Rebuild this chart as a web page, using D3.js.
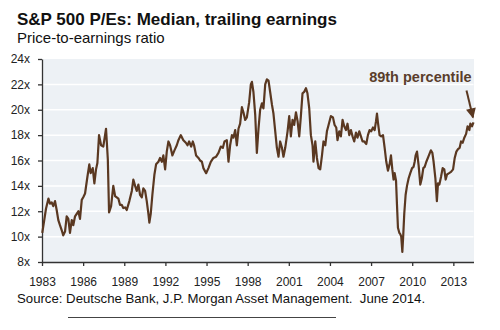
<!DOCTYPE html>
<html>
<head>
<meta charset="utf-8">
<script src="https://cdn.jsdelivr.net/npm/d3@7"></script>
<style>
  body { margin: 0; background: #fff; }
  svg { display: block; font-family: Arial, "Liberation Sans", sans-serif; }
</style>
</head>
<body>
<div id="chart"></div>
<script>
// median trailing P/E (decimal years)
const years = [1983.02, 1983.15, 1983.29, 1983.47, 1983.58, 1983.71, 1983.82, 1983.95, 1984.07, 1984.19,
  1984.31, 1984.44, 1984.55, 1984.68, 1984.80, 1984.92, 1985.04, 1985.17, 1985.28, 1985.41,
  1985.53, 1985.65, 1985.77, 1985.90, 1986.01, 1986.14, 1986.31, 1986.45, 1986.55, 1986.70,
  1986.82, 1986.94, 1987.04, 1987.16, 1987.31, 1987.47, 1987.67, 1987.80, 1987.89, 1988.04,
  1988.20, 1988.33, 1988.45, 1988.57, 1988.69, 1988.82, 1988.93, 1989.06, 1989.18, 1989.37,
  1989.55, 1989.66, 1989.79, 1989.91, 1990.03, 1990.15, 1990.28, 1990.39, 1990.52, 1990.64,
  1990.76, 1990.83, 1990.93, 1991.05, 1991.20, 1991.32, 1991.49, 1991.61, 1991.74, 1991.85,
  1991.98, 1992.10, 1992.22, 1992.34, 1992.51, 1992.66, 1992.83, 1992.95, 1993.12, 1993.31,
  1993.49, 1993.61, 1993.73, 1993.88, 1994.00, 1994.09, 1994.24, 1994.41, 1994.53, 1994.66,
  1994.77, 1994.97, 1995.14, 1995.31, 1995.50, 1995.70, 1995.87, 1996.04, 1996.19, 1996.31,
  1996.48, 1996.60, 1996.72, 1996.85, 1996.96, 1997.09, 1997.21, 1997.33, 1997.45, 1997.58,
  1997.69, 1997.82, 1997.94, 1998.11, 1998.23, 1998.31, 1998.42, 1998.55, 1998.67, 1998.79,
  1998.91, 1999.04, 1999.15, 1999.28, 1999.40, 1999.52, 1999.64, 1999.77, 1999.88, 2000.01,
  2000.13, 2000.25, 2000.37, 2000.50, 2000.61, 2000.74, 2000.91, 2001.03, 2001.15, 2001.27,
  2001.39, 2001.52, 2001.64, 2001.76, 2001.88, 2002.00, 2002.12, 2002.25, 2002.36, 2002.49,
  2002.61, 2002.73, 2002.80, 2002.93, 2003.05, 2003.17, 2003.29, 2003.42, 2003.53, 2003.66,
  2003.78, 2003.90, 2004.07, 2004.22, 2004.34, 2004.46, 2004.55, 2004.68, 2004.80, 2004.92,
  2005.04, 2005.17, 2005.28, 2005.41, 2005.53, 2005.65, 2005.77, 2005.90, 2006.01, 2006.14,
  2006.26, 2006.38, 2006.50, 2006.65, 2006.77, 2006.89, 2007.01, 2007.14, 2007.26, 2007.36,
  2007.43, 2007.50, 2007.62, 2007.74, 2007.87, 2007.99, 2008.11, 2008.23, 2008.35, 2008.45,
  2008.55, 2008.64, 2008.72, 2008.82, 2008.89, 2008.96, 2009.06, 2009.13, 2009.20, 2009.28,
  2009.35, 2009.42, 2009.52, 2009.62, 2009.74, 2009.86, 2009.99, 2010.10, 2010.18, 2010.25,
  2010.35, 2010.47, 2010.59, 2010.70, 2010.81, 2010.91, 2011.03, 2011.18, 2011.36, 2011.47,
  2011.56, 2011.69, 2011.80, 2011.88, 2011.98, 2012.10, 2012.22, 2012.34, 2012.44, 2012.54,
  2012.69, 2012.83, 2012.98, 2013.10, 2013.22, 2013.34, 2013.46, 2013.56, 2013.68, 2013.80,
  2013.93, 2014.04, 2014.17, 2014.24, 2014.36, 2014.47];

const peRatio = [10.3, 11.2, 12.2, 13.0, 12.6, 12.7, 12.4, 12.8, 12.1, 11.3,
  10.9, 10.5, 10.1, 10.4, 11.6, 11.4, 10.3, 11.3, 10.9, 11.6,
  11.8, 12.0, 11.4, 12.9, 13.1, 13.4, 14.7, 15.7, 15.0, 15.4,
  14.2, 15.3, 15.8, 18.0, 17.2, 17.1, 18.5, 16.1, 11.9, 12.4,
  14.0, 13.2, 13.1, 13.0, 12.5, 12.5, 12.25, 12.3, 12.1, 12.8,
  13.6, 14.5, 14.0, 13.6, 14.1, 13.3, 13.1, 13.8, 13.6, 12.8,
  11.8, 11.1, 11.8, 13.3, 14.9, 15.7, 15.9, 16.2, 15.9, 16.4,
  15.3, 16.7, 17.5, 17.2, 16.4, 16.8, 17.2, 17.6, 18.0, 17.6,
  17.4, 17.2, 17.5, 17.1, 17.5, 17.2, 16.4, 16.2, 16.0, 15.9,
  15.4, 15.0, 15.4, 15.9, 16.2, 16.3, 16.6, 17.1, 17.0, 17.5,
  17.6, 15.9, 17.2, 18.0, 17.8, 18.4, 17.2, 18.5, 18.9, 20.2,
  19.8, 19.2, 19.4, 20.6, 22.0, 22.2, 21.4, 19.6, 16.6, 18.5,
  20.0, 20.5, 20.1, 22.0, 22.4, 22.3, 21.4, 20.4, 19.7, 18.3,
  17.0, 16.3, 17.5, 17.0, 16.3, 17.0, 18.3, 19.5, 17.9, 19.2,
  18.8, 19.8, 19.1, 17.9, 19.5, 21.3, 21.4, 21.7, 21.3, 20.1,
  18.0, 17.2, 15.9, 17.5, 16.2, 15.4, 15.3, 16.4, 17.5, 17.2,
  18.3, 18.8, 19.5, 19.4, 18.8, 18.6, 17.6, 18.3, 17.9, 19.2,
  18.7, 18.4, 18.9, 18.0, 18.4, 17.9, 17.5, 18.2, 17.8, 18.3,
  17.9, 17.5, 17.5, 17.3, 18.0, 18.4, 18.3, 18.6, 18.4, 19.1,
  19.7, 19.0, 18.0, 17.9, 18.0, 17.0, 15.9, 15.2, 15.7, 16.4,
  15.3, 14.5, 15.0, 14.4, 12.5, 10.7, 10.3, 10.2, 10.0, 8.8,
  10.2, 11.8, 13.3, 14.0, 14.6, 15.0, 15.4, 15.5, 15.9, 16.4,
  16.7, 15.6, 14.1, 14.6, 15.4, 15.5, 15.9, 16.3, 16.8, 16.6,
  15.9, 14.6, 12.8, 14.2, 14.1, 14.7, 15.4, 15.3, 14.5, 14.9,
  15.0, 15.1, 15.3, 16.2, 16.7, 16.9, 17.0, 17.5, 17.4, 17.8,
  18.1, 18.7, 18.4, 18.9, 18.7, 19.0];

const yTicks = [8, 10, 12, 14, 16, 18, 20, 22, 24];
const xTicks = [1983, 1986, 1989, 1992, 1995, 1998, 2001, 2004, 2007, 2010, 2013];

const lineColor = "#5a3821";

const svg = d3.select("#chart")
  .append("svg")
  .attr("width", 500)
  .attr("height", 330);

const x = d3.scaleLinear().domain([1983, 2014.47]).range([42, 473.5]);
const y = d3.scaleLinear().domain([8, 24]).range([262, 59]);

// titles
svg.append("text")
  .attr("x", 17).attr("y", 25)
  .attr("font-size", "17px").attr("font-weight", "bold").attr("fill", "#111")
  .text("S&P 500 P/Es: Median, trailing earnings");

svg.append("text")
  .attr("x", 17).attr("y", 43)
  .attr("font-size", "15px").attr("fill", "#111")
  .text("Price-to-earnings ratio");

// plot background + gridlines
svg.append("rect")
  .attr("x", x(1983)).attr("y", y(24))
  .attr("width", x.range()[1] - x(1983) + 0.5)
  .attr("height", y(8) - y(24))
  .attr("fill", "#edf1f5");

svg.append("g")
  .selectAll("line")
  .data(yTicks.filter(d => d > 8 && d < 24))
  .enter()
  .append("line")
  .attr("x1", x(1983)).attr("x2", x.range()[1])
  .attr("y1", d => y(d)).attr("y2", d => y(d))
  .attr("stroke", "#fff")
  .attr("stroke-width", 1.5);

// axes
const yAxis = svg.append("g")
  .attr("transform", "translate(" + x(1983) + ",0)")
  .call(d3.axisLeft(y).tickValues(yTicks).tickSize(4).tickSizeOuter(0).tickPadding(8).tickFormat(d => d + "x"));

const xAxis = svg.append("g")
  .attr("transform", "translate(0," + y(8) + ")")
  .call(d3.axisBottom(x).tickValues(xTicks).tickSize(4).tickSizeOuter(0).tickPadding(11).tickFormat(d3.format("d")));

[yAxis, xAxis].forEach(g => {
  g.selectAll("path, line").attr("stroke", "#333").attr("stroke-width", 1.3);
  g.selectAll("text")
    .attr("font-size", "12px")
    .attr("fill", "#222")
    .style("font-family", "Arial, 'Liberation Sans', sans-serif");
});

// the series
const line = d3.line()
  .x(d => x(d[0]))
  .y(d => y(d[1]));

svg.append("path")
  .datum(d3.zip(years, peRatio))
  .attr("d", line)
  .attr("fill", "none")
  .attr("stroke", lineColor)
  .attr("stroke-width", 2.2)
  .attr("stroke-linejoin", "round");

// annotation pointing at the latest reading
const lastX = x(years[years.length - 1]);
const lastY = y(peRatio[peRatio.length - 1]);

svg.append("defs")
  .append("marker")
  .attr("id", "head")
  .attr("viewBox", "0 0 10 10")
  .attr("refX", 9).attr("refY", 5)
  .attr("markerWidth", 5.5).attr("markerHeight", 5)
  .attr("orient", "auto")
  .append("path")
  .attr("d", "M0,0L10,5L0,10Z")
  .attr("fill", lineColor);

svg.append("line")
  .attr("x1", lastX - 7).attr("y1", lastY - 32)
  .attr("x2", lastX - 0.5).attr("y2", lastY - 5)
  .attr("stroke", lineColor)
  .attr("stroke-width", 2)
  .attr("marker-end", "url(#head)");

svg.append("text")
  .attr("x", lastX - 2).attr("y", 82)
  .attr("text-anchor", "end")
  .attr("font-size", "14.5px").attr("font-weight", "bold")
  .attr("fill", "#5a3d2b")
  .text("89th percentile");

// source
svg.append("text")
  .attr("x", 17).attr("y", 303)
  .attr("font-size", "13.2px").attr("fill", "#111")
  .attr("xml:space", "preserve")
  .text("Source: Deutsche Bank, J.P. Morgan Asset Management.  June 2014.");

svg.append("line")
  .attr("x1", 68).attr("x2", 336)
  .attr("y1", 317.5).attr("y2", 317.5)
  .attr("stroke", "#444")
  .attr("stroke-width", 1.2);
</script>
</body>
</html>
